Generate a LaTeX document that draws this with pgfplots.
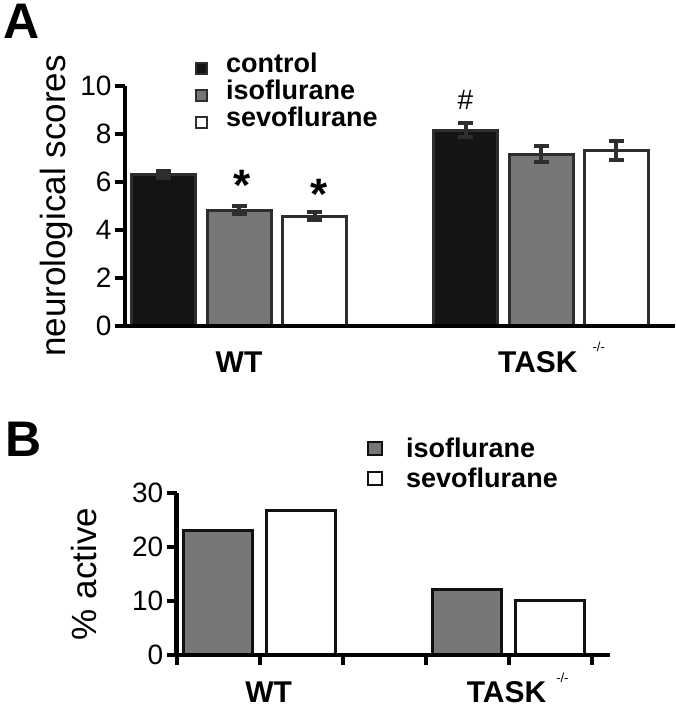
\documentclass[border=0pt]{standalone}
\usepackage{fontspec}
\setmainfont{Liberation Sans}
\usepackage{pgfplots}
\pgfplotsset{compat=1.18}

\definecolor{ctrl}{HTML}{141414}
\definecolor{isoc}{HTML}{777777}
\definecolor{edgeA}{HTML}{2E2E2E}
\definecolor{edgeB}{HTML}{111111}

\newcommand{\fs}[1]{\fontsize{#1}{#1}\selectfont}

\begin{document}
\begin{tikzpicture}[x=1pt,y=1pt]
\path[use as bounding box] (0pt,0pt) rectangle (675pt,708pt);

\node[anchor=north west, inner sep=0pt, font=\fs{50}\bfseries] at (3pt,704pt) {A};
\node[anchor=north west, inner sep=0pt, font=\fs{50}\bfseries] at (5pt,286pt) {B};

% ---------------- Panel A ----------------
\begin{axis}[
  at={(125pt,382pt)}, anchor=south west,
  scale only axis, width=550pt, height=240pt,
  xmin=-0.51, xmax=6.775, ymin=0, ymax=10,
  axis lines*=left,
  axis line style={line width=4.5pt, black},
  axis on top,
  clip=false,
  tick align=outside,
  major tick length=10pt,
  ytick={0,2,4,6,8,10},
  y tick style={line width=4pt, black},
  xtick={1,5.14},
  xticklabels={WT, TASK\hspace{15pt}\raisebox{21pt}[0pt][0pt]{\fs{13}\mdseries -/-}},
  x tick style={draw=none},
  /pgf/number format/assume math mode=true,
  yticklabel style={font=\fs{28}},
  xticklabel style={font=\fs{30}\bfseries, anchor=base, inner sep=0pt, yshift=-37pt},
  every axis y label/.style={at={(axis description cs:-0.1255,0.5)}, rotate=90, anchor=center},
  ylabel={neurological scores},
  ylabel style={font=\fs{35}},
  legend image code/.code={\draw[#1] (0pt,-10.75pt) rectangle (11pt,0.25pt); \path[draw=none, fill=none] (0pt,0pt) -- (30pt,0pt);},
  legend style={at={(axis description cs:0.127,1.1375)}, anchor=north west,
    draw=none, fill=none, inner sep=0pt, row sep=5.5pt, column sep=0pt,
    font=\fs{27}\bfseries,
    nodes={inner sep=0pt, text height=19.5pt, text depth=0pt}},
  legend cell align=left,
]
\addlegendimage{fill=ctrl, draw=edgeA, line width=2pt}
\addlegendentry{control}
\addlegendimage{fill=isoc, draw=edgeA, line width=2pt}
\addlegendentry{isoflurane}
\addlegendimage{fill=white, draw=edgeA, line width=2pt}
\addlegendentry{sevoflurane}

\addplot[ybar, bar width=64pt, bar shift=0pt, fill=ctrl, draw=edgeA, line width=3pt,
  error bars/.cd, y dir=both, y explicit,
  error bar style={line width=4pt, color=edgeA},
  error mark options={rotate=90, mark size=7.5pt, line width=4pt, color=edgeA}]
  coordinates {(0,6.30) +- (0,0.14) (4,8.15) +- (0,0.29)};
\addplot[ybar, bar width=64pt, bar shift=0pt, fill=isoc, draw=edgeA, line width=3pt,
  error bars/.cd, y dir=both, y explicit,
  error bar style={line width=4pt, color=edgeA},
  error mark options={rotate=90, mark size=7.5pt, line width=4pt, color=edgeA}]
  coordinates {(1,4.83) +- (0,0.16) (5,7.15) +- (0,0.33)};
\addplot[ybar, bar width=64pt, bar shift=0pt, fill=white, draw=edgeA, line width=3pt,
  error bars/.cd, y dir=both, y explicit,
  error bar style={line width=4pt, color=edgeA},
  error mark options={rotate=90, mark size=7.5pt, line width=4pt, color=edgeA}]
  coordinates {(2,4.58) +- (0,0.17) (6,7.30) +- (0,0.40)};

\node[font=\fs{44}\bfseries, anchor=base] at (axis cs:1.04,5.22) {*};
\node[font=\fs{44}\bfseries, anchor=base] at (axis cs:2.06,4.84) {*};
\node[font=\fs{28}, anchor=base] at (axis cs:4,9.0) {\#};
\end{axis}

% ---------------- Panel B ----------------
\begin{axis}[
  at={(176.7pt,53pt)}, anchor=south west,
  scale only axis, width=433pt, height=162pt,
  xmin=0, xmax=5.217, ymin=0, ymax=30,
  axis lines*=left,
  axis line style={line width=4.5pt, black},
  axis on top,
  clip=false,
  tick align=outside,
  major tick length=10pt,
  ytick={0,10,20,30},
  xtick={0,1,2,3,4,5},
  xticklabels={,WT,,,TASK\hspace{10pt}\raisebox{20pt}[0pt][0pt]{\fs{13}\mdseries -/-},},
  tick style={line width=4pt, black},
  /pgf/number format/assume math mode=true,
  yticklabel style={font=\fs{28}},
  xticklabel style={font=\fs{30}\bfseries, anchor=base, inner sep=0pt, xshift=9pt, yshift=-37pt},
  every axis y label/.style={at={(axis description cs:-0.214,0.5)}, rotate=90, anchor=center},
  ylabel={\% active},
  ylabel style={font=\fs{35}},
  legend image code/.code={\draw[#1] (0pt,-7.75pt) rectangle (14pt,5.25pt); \path[draw=none, fill=none] (0pt,0pt) -- (38pt,0pt);},
  legend style={at={(axis description cs:0.4395,1.3426)}, anchor=north west,
    draw=none, fill=none, inner sep=0pt, row sep=10.5pt, column sep=0pt,
    font=\fs{27}\bfseries,
    nodes={inner sep=0pt, text height=19.5pt, text depth=0pt}},
  legend cell align=left,
]
\addlegendimage{fill=isoc, draw=edgeB, line width=2pt}
\addlegendentry{isoflurane}
\addlegendimage{fill=white, draw=edgeB, line width=2pt}
\addlegendentry{sevoflurane}

\addplot[ybar, bar width=69pt, bar shift=0pt, fill=isoc, draw=edgeB, line width=3pt]
  coordinates {(0.5,23.0) (3.5,12.2)};
\addplot[ybar, bar width=69pt, bar shift=0pt, fill=white, draw=edgeB, line width=3pt]
  coordinates {(1.5,26.85) (4.5,10.05)};
\end{axis}
\end{tikzpicture}
\end{document}
